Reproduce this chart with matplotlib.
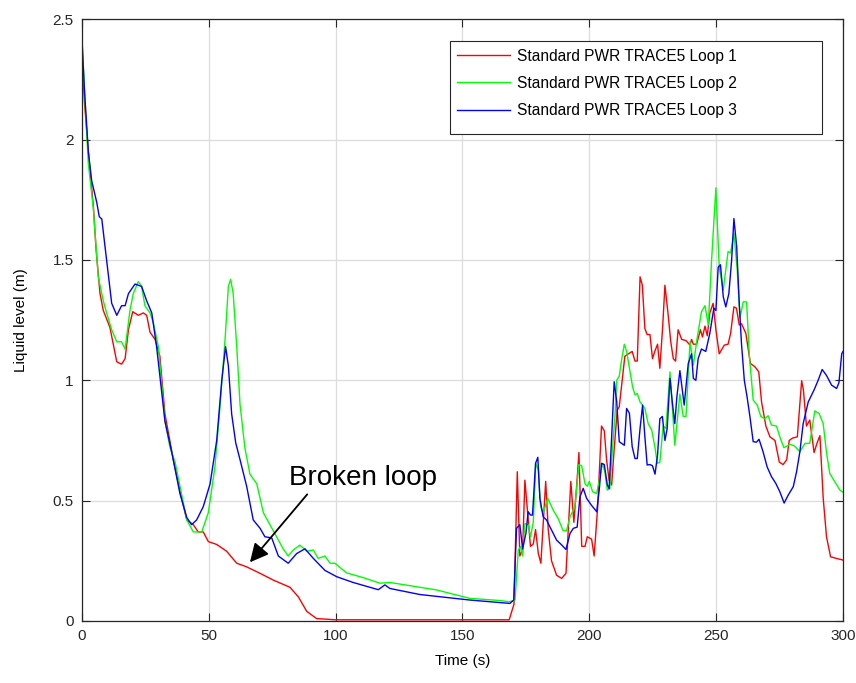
import matplotlib
matplotlib.use("Agg")
import matplotlib.pyplot as plt
from matplotlib.ticker import FuncFormatter
from matplotlib.patches import Rectangle

plt.rcParams['font.family'] = ['Liberation Sans', 'DejaVu Sans']

series_labels = ["Standard PWR TRACE5 Loop 1", "Standard PWR TRACE5 Loop 2", "Standard PWR TRACE5 Loop 3"]
series_colors = ["#ff0000", "#00ff00", "#0000ff"]

t_loop1 = [0, 1, 2.5, 4.5, 5.5, 7.1, 8.4, 11, 13.7, 15.6, 17, 18.3, 20, 22.2, 24.2, 25.5, 26.8, 28.8, 30.7, 32.7,
           36, 38.6, 41.3, 43.9, 45.8, 47.8, 49.8, 53.1, 57, 61, 64.9, 70.2, 75.4, 82, 85.3, 88.6, 92.5, 100, 168.4,
           170.3, 171.6, 172.6, 173.7, 174.6, 175.9, 176.8, 177.9, 178.8, 179.9, 180.9, 182.8, 183.8, 185.1, 187.1,
           189.1, 190.8, 191.7, 192.7, 193.9, 195, 195.9, 197, 198.3, 199.2, 200.9, 201.9, 203.3, 204.8, 205.9,
           206.8, 207.8, 208.8, 209.7, 211, 211.8, 214, 215.4, 216.9, 218, 218.9, 220, 220.9, 221.9, 222.8, 223.9,
           224.9, 225.8, 226.9, 227.8, 228.9, 229.8, 231.1, 232.1, 233.1, 234, 235, 236.4, 238.1, 239.7, 240.3,
           241, 242.3, 243.8, 244.6, 245.6, 246.5, 247.5, 248.8, 249.9, 251.2, 253.2, 254.7, 255.7, 257, 258,
           259.1, 260, 261.7, 263.5, 265.3, 266.8, 267.9, 269.6, 271.2, 273.2, 274.9, 276.4, 277.8, 278.8, 280.1,
           282, 283.7, 284.4, 285.6, 286.9, 288.6, 289.8, 290.9, 292.2, 293.5, 295.1, 297.4, 300]
v_loop1 = [2.35, 2.15, 1.95, 1.72, 1.55, 1.36, 1.29, 1.22, 1.077, 1.067, 1.09, 1.21, 1.285, 1.27, 1.28, 1.27, 1.20,
           1.17, 1.10, 0.86, 0.67, 0.54, 0.42, 0.40, 0.37, 0.37, 0.33, 0.318, 0.29, 0.24, 0.225, 0.198, 0.17, 0.14,
           0.10, 0.04, 0.01, 0.005, 0.005, 0.07, 0.62, 0.27, 0.295, 0.585, 0.42, 0.31, 0.32, 0.38, 0.28, 0.24, 0.58,
           0.38, 0.25, 0.19, 0.177, 0.198, 0.38, 0.58, 0.41, 0.56, 0.70, 0.31, 0.31, 0.35, 0.34, 0.27, 0.475, 0.81,
           0.79, 0.67, 0.585, 0.565, 0.70, 0.876, 0.89, 1.10, 1.11, 1.12, 1.08, 1.08, 1.43, 1.395, 1.215, 1.19, 1.19,
           1.09, 1.12, 1.15, 1.05, 1.22, 1.395, 1.27, 1.16, 1.09, 1.08, 1.21, 1.17, 1.165, 1.146, 1.17, 1.15, 1.15,
           1.21, 1.18, 1.225, 1.185, 1.28, 1.32, 1.21, 1.11, 1.146, 1.15, 1.195, 1.305, 1.30, 1.23, 1.235, 1.195,
           1.07, 1.056, 1.035, 0.91, 0.81, 0.765, 0.75, 0.66, 0.65, 0.67, 0.75, 0.76, 0.765, 0.998, 0.96, 0.81,
           0.835, 0.70, 0.74, 0.77, 0.51, 0.35, 0.267, 0.26, 0.253]

t_loop2 = [0, 1, 2.5, 4.5, 6.4, 8.4, 9.7, 11.7, 13.7, 15.6, 17, 18.9, 20.2, 22.2, 23.5, 24.8, 26.8, 28.1, 30.1, 32.7,
           34.7, 36.7, 38.6, 41.3, 43.9, 47.2, 49.8, 52.4, 54.4, 56.4, 57.7, 58.6, 59.6, 61, 62.3, 64.2, 66.2, 68.9,
           71.5, 74.1, 76.7, 79.3, 81.3, 83.3, 85.9, 88.6, 91.2, 93.1, 95.8, 97.8, 99.7, 104.3, 110.9, 117.5, 121.4,
           139.8, 152.9, 164.8, 168.4, 170.7, 172, 173, 173.7, 174.6, 175.9, 176.8, 177.9, 178.9, 179.9, 180.8,
           181.8, 183.6, 185.8, 187.7, 189.7, 191, 192.4, 194.3, 195.9, 197, 198.3, 199.2, 200, 201.3, 202.9, 204.2,
           205.2, 206.1, 207.1, 208.1, 209, 210.1, 210.8, 211.8, 212.7, 213.8, 214.7, 216, 217.1, 218, 218.9, 220,
           221, 221.9, 223.2, 224.6, 225.9, 226.8, 227.8, 229.1, 230.2, 231.8, 233.7, 235.7, 237, 238.1, 239.7, 241,
           242.5, 244.2, 245.6, 246.9, 248.2, 249.9, 251.2, 252.8, 253.8, 254.7, 255.7, 257, 258.3, 259.4, 260.7,
           262, 263.1, 264.6, 266.2, 267.6, 269.2, 270.5, 271.8, 273.8, 275.1, 276.7, 279.1, 281, 283, 285, 286.9,
           288.9, 290.6, 292.2, 293.5, 294.8, 296.8, 298.8, 300]
v_loop2 = [2.42, 2.2, 1.90, 1.71, 1.43, 1.33, 1.28, 1.21, 1.16, 1.16, 1.13, 1.29, 1.36, 1.41, 1.39, 1.31, 1.28, 1.24,
           1.14, 0.83, 0.72, 0.66, 0.56, 0.42, 0.37, 0.37, 0.45, 0.64, 0.89, 1.17, 1.39, 1.42, 1.36, 1.14, 0.90,
           0.72, 0.61, 0.57, 0.45, 0.40, 0.35, 0.30, 0.27, 0.295, 0.315, 0.29, 0.295, 0.26, 0.27, 0.24, 0.24, 0.20,
           0.18, 0.157, 0.16, 0.129, 0.094, 0.085, 0.08, 0.087, 0.295, 0.31, 0.27, 0.405, 0.40, 0.35, 0.41, 0.655,
           0.627, 0.475, 0.447, 0.51, 0.46, 0.426, 0.375, 0.375, 0.433, 0.475, 0.65, 0.645, 0.57, 0.56, 0.58, 0.537,
           0.53, 0.60, 0.655, 0.62, 0.544, 0.55, 0.70, 0.85, 1.0, 1.017, 1.083, 1.15, 1.12, 1.04, 0.97, 0.94, 0.945,
           0.91, 0.897, 0.883, 0.82, 0.793, 0.72, 0.655, 0.66, 0.81, 0.80, 1.035, 0.73, 0.943, 0.85, 0.85, 1.16,
           1.063, 1.174, 1.285, 1.31, 1.23, 1.5, 1.80, 1.47, 1.375, 1.46, 1.535, 1.53, 1.61, 1.46, 1.26, 1.326, 1.326,
           1.10, 0.918, 0.897, 0.85, 0.84, 0.853, 0.814, 0.81, 0.765, 0.72, 0.734, 0.727, 0.703, 0.738, 0.738, 0.873,
           0.862, 0.82, 0.70, 0.613, 0.578, 0.544, 0.535]

t_loop3 = [0, 1, 2.5, 3.8, 5.8, 6.8, 7.8, 9.7, 11.7, 13.7, 15.6, 17, 18.3, 20.9, 23.5, 25.5, 27.5, 29.4, 32.7, 35.4,
           38.6, 41.3, 43.2, 45.2, 47.8, 50.5, 53.1, 55.1, 56.6, 57.7, 59, 60.6, 62.3, 64.9, 67.5, 70.2, 72.1, 74.8,
           77.4, 81.3, 84.6, 87.9, 91.2, 95.8, 100.4, 106.9, 113.5, 116.8, 119.4, 121.4, 133.2, 152.9, 168.7, 170.2,
           171.3, 172.6, 173.7, 175, 175.9, 176.8, 177.6, 178.8, 179.7, 180.5, 181.8, 183.1, 185.1, 187.1, 189.1,
           190.8, 192.4, 193.7, 195.2, 196.3, 197.6, 198.9, 200.9, 202.9, 203.9, 204.8, 205.9, 207.1, 207.8, 208.8,
           209.8, 210.8, 211.8, 213.8, 214.7, 215.8, 216.9, 218, 218.9, 220, 221, 221.9, 222.8, 223.9, 224.9, 225.9,
           226.9, 227.8, 228.8, 229.8, 230.7, 231.8, 232.7, 233.7, 234.5, 235.7, 237.4, 239, 240.3, 241, 242, 242.9,
           244.2, 245.9, 247.5, 249.1, 249.9, 250.8, 251.7, 252.8, 253.8, 255, 256.1, 257, 258.1, 259.1, 260, 261.1,
           262.2, 263.3, 264.6, 265.9, 266.9, 268.5, 270.1, 271.8, 273.5, 275.1, 276.8, 278.4, 280.4, 281.7, 283,
           284.3, 286.3, 288.6, 290.2, 291.8, 293.5, 295.5, 297.5, 298.4, 299.5, 300]
v_loop3 = [2.41, 2.2, 1.95, 1.83, 1.74, 1.68, 1.67, 1.50, 1.32, 1.27, 1.31, 1.31, 1.36, 1.40, 1.39, 1.33, 1.28, 1.14,
           0.83, 0.70, 0.53, 0.43, 0.40, 0.42, 0.475, 0.57, 0.75, 1.0, 1.14, 1.06, 0.86, 0.74, 0.67, 0.56, 0.42,
           0.385, 0.35, 0.345, 0.27, 0.24, 0.28, 0.30, 0.26, 0.21, 0.184, 0.16, 0.14, 0.13, 0.15, 0.135, 0.11, 0.087,
           0.073, 0.087, 0.385, 0.40, 0.30, 0.364, 0.454, 0.44, 0.44, 0.655, 0.68, 0.51, 0.433, 0.42, 0.378, 0.336,
           0.316, 0.297, 0.364, 0.385, 0.39, 0.516, 0.551, 0.51, 0.48, 0.454, 0.544, 0.655, 0.65, 0.565, 0.55, 0.765,
           0.994, 0.91, 0.745, 0.73, 0.883, 0.863, 0.724, 0.675, 0.675, 0.80, 0.897, 0.765, 0.648, 0.65, 0.645, 0.61,
           0.69, 0.84, 0.85, 0.75, 0.80, 1.008, 0.91, 0.82, 0.93, 1.04, 0.897, 1.07, 1.11, 1.008, 1.0, 1.09, 1.13,
           1.12, 1.195, 1.30, 1.29, 1.47, 1.48, 1.347, 1.305, 1.36, 1.5, 1.672, 1.554, 1.32, 1.15, 1.0, 0.93, 0.85,
           0.745, 0.743, 0.755, 0.703, 0.64, 0.60, 0.572, 0.537, 0.49, 0.523, 0.558, 0.62, 0.703, 0.82, 0.91, 0.96,
           1.0, 1.045, 1.02, 0.98, 0.966, 0.99, 1.11, 1.12]

x_ticks = [0, 50, 100, 150, 200, 250, 300]
y_ticks = [0, 0.5, 1, 1.5, 2, 2.5]

annot_text = "Broken loop"
annot_text_pos = (110.8, 0.595)
annot_tail = (89.5, 0.535)
annot_head = (65.5, 0.235)

fig = plt.figure(figsize=(8.56, 6.83), dpi=100)
ax = fig.add_axes([0.0958, 0.0908, 0.889, 0.881])

for t, v, lab, c in zip([t_loop1, t_loop2, t_loop3], [v_loop1, v_loop2, v_loop3], series_labels, series_colors):
    ax.plot(t, v, color=c, lw=1.0, label=lab)

ax.set_xlim(0, 300)
ax.set_ylim(0, 2.5)
ax.set_xticks(x_ticks)
ax.set_yticks(y_ticks)
ax.yaxis.set_major_formatter(FuncFormatter(lambda v, p: f"{v:g}"))
ax.grid(True, color="#dcdcdc", lw=0.9)
ax.set_axisbelow(True)
ax.tick_params(direction="in", top=True, right=True, length=6, width=0.8, labelsize=11, colors="#262626", pad=6)
for s in ax.spines.values():
    s.set_color("#262626")
    s.set_linewidth(0.9)
ax.set_xlabel("Time (s)", fontsize=11, labelpad=8)
ax.set_ylabel("Liquid level (m)", fontsize=11, labelpad=18)

# legend box (MATLAB style, wide right padding)
ax.add_patch(Rectangle((0.4836, 0.809), 0.9724 - 0.4836, 0.9635 - 0.809, transform=ax.transAxes,
                       facecolor="white", edgecolor="#262626", lw=0.8, zorder=4))
leg = ax.legend(loc="upper left", bbox_to_anchor=(0.4928, 0.951), fontsize=11.2, frameon=False,
                handlelength=3.4, labelspacing=0.78, borderpad=0.0, borderaxespad=0.0, handletextpad=0.45)
leg.set_zorder(5)

ax.text(annot_text_pos[0], annot_text_pos[1], annot_text, fontsize=20, ha="center", va="center")
ax.annotate("", xy=annot_head, xytext=annot_tail,
            arrowprops=dict(arrowstyle="-|>", color="k", lw=1.3, mutation_scale=28))

fig.savefig("out.png", dpi=100)
